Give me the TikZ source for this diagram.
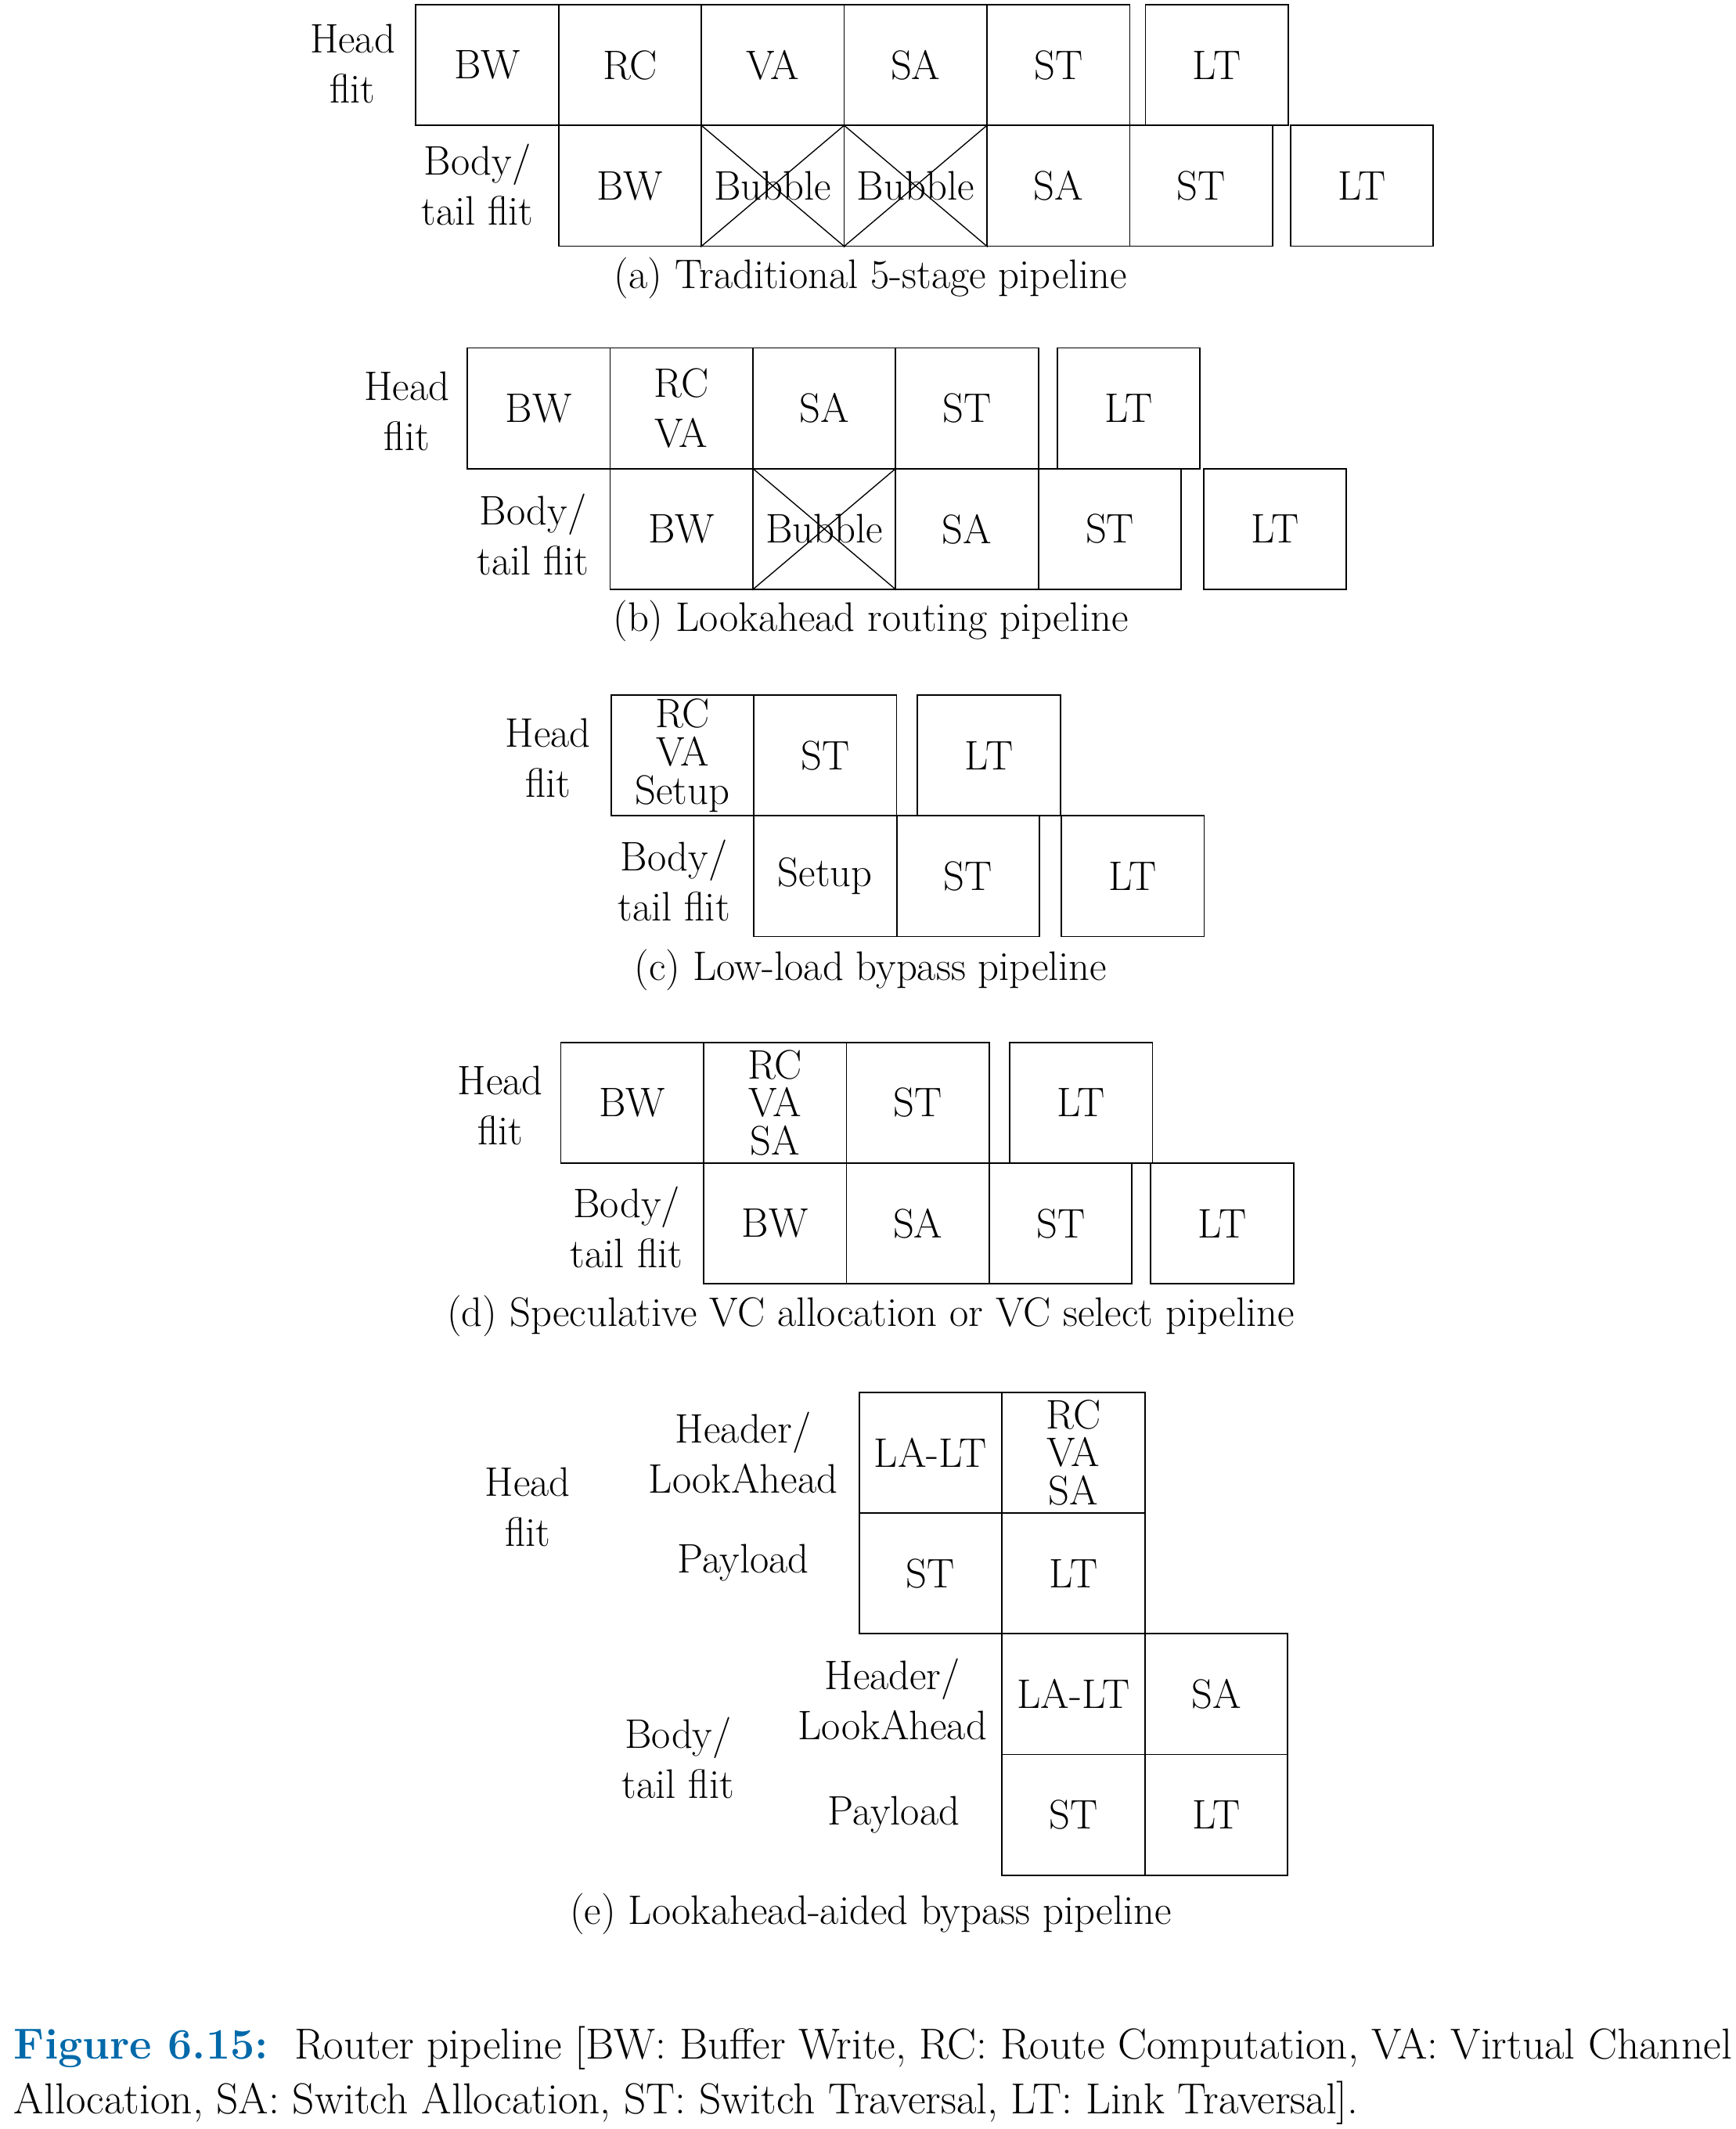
\documentclass[tikz,border=0pt]{standalone}
\usepackage{xcolor}
\definecolor{figblue}{RGB}{0,105,170}
\newcommand\pnlfont{\fontsize{17.3}{21}\selectfont}
\newcommand\stkfont{\fontsize{17.3}{16}\selectfont}
\newcommand\capfnt{\fontsize{18.2}{22.8}\selectfont}
\tikzset{
  cell/.style={draw, line width=0.6pt, minimum width=2.106cm, minimum height=1.78cm,
    inner sep=0pt, anchor=north west, align=center, font=\pnlfont},
  stk/.style={font=\stkfont},
  lbl/.style={align=center, font=\pnlfont, inner sep=0pt},
  xline/.style={line width=0.45pt}
}
\begin{document}
\begin{tikzpicture}[x=0.02cm, y=-0.02cm]
\useasboundingbox (0,0) rectangle (1280,1569.7);
% ---------- (a)
\node[lbl] (aHl) at (260,47) {Head\\flit};
\node[lbl] (aBl) at (352,136) {Body/\\tail flit};
\node[cell] (aH1) at (306,3) {BW};
\node[cell] (aH2) at (411.3,3) {RC};
\node[cell] (aH3) at (516.6,3) {VA};
\node[cell] (aH4) at (621.9,3) {SA};
\node[cell] (aH5) at (727.2,3) {ST};
\node[cell] (aH6) at (844,3) {LT};
\node[cell] (aB1) at (411.3,92) {BW};
\node[cell] (aB2) at (516.6,92) {Bubble};
\node[cell] (aB3) at (621.9,92) {Bubble};
\node[cell] (aB4) at (727.2,92) {SA};
\node[cell] (aB5) at (832.5,92) {ST};
\node[cell] (aB6) at (951,92) {LT};
\draw[xline] (aB2.north west) -- (aB2.south east) (aB2.south west) -- (aB2.north east);
\draw[xline] (aB3.north west) -- (aB3.south east) (aB3.south west) -- (aB3.north east);
\node[lbl] (aCap) at (642,205) {(a) Traditional 5-stage pipeline};
% ---------- (b)
\node[lbl] (bHl) at (300,303) {Head\\flit};
\node[lbl] (bBl) at (393,394) {Body/\\tail flit};
\node[cell] (bH1) at (344,256) {BW};
\node[cell] (bH2) at (449.3,256) {RC\\VA};
\node[cell] (bH3) at (554.6,256) {SA};
\node[cell] (bH4) at (659.9,256) {ST};
\node[cell] (bH5) at (779,256) {LT};
\node[cell] (bB1) at (449.3,345) {BW};
\node[cell] (bB2) at (554.6,345) {Bubble};
\node[cell] (bB3) at (659.9,345) {SA};
\node[cell] (bB4) at (765.2,345) {ST};
\node[cell] (bB5) at (887,345) {LT};
\draw[xline] (bB2.north west) -- (bB2.south east) (bB2.south west) -- (bB2.north east);
\node[lbl] (bCap) at (642,458) {(b) Lookahead routing pipeline};
% ---------- (c)
\node[lbl] (cHl) at (404,559) {Head\\flit};
\node[lbl] (cBl) at (497,649) {Body/\\tail flit};
\node[cell,stk] (cH1) at (450,512) {RC\\VA\\Setup};
\node[cell] (cH2) at (555.3,512) {ST};
\node[cell] (cH3) at (676,512) {LT};
\node[cell] (cB1) at (555.3,601) {Setup};
\node[cell] (cB2) at (660.6,601) {ST};
\node[cell] (cB3) at (782,601) {LT};
\node[lbl] (cCap) at (642,715) {(c) Low-load bypass pipeline};
% ---------- (d)
\node[lbl] (dHl) at (369,815) {Head\\flit};
\node[lbl] (dBl) at (462,905) {Body/\\tail flit};
\node[cell] (dH1) at (413,768) {BW};
\node[cell,stk] (dH2) at (518.3,768) {RC\\VA\\SA};
\node[cell] (dH3) at (623.6,768) {ST};
\node[cell] (dH4) at (744,768) {LT};
\node[cell] (dB1) at (518.3,857) {BW};
\node[cell] (dB2) at (623.6,857) {SA};
\node[cell] (dB3) at (728.9,857) {ST};
\node[cell] (dB4) at (848,857) {LT};
\node[lbl] (dCap) at (642,970) {(d) Speculative VC allocation or VC select pipeline};
% ---------- (e)
\node[lbl] (eHl) at (389,1111) {Head\\flit};
\node[lbl] (eHh) at (548,1071) {Header/\\LookAhead};
\node[lbl] (eHp) at (548,1152) {Payload};
\node[cell] (eH1) at (633,1026) {LA-LT};
\node[cell,stk] (eH2) at (738.3,1026) {RC\\VA\\SA};
\node[cell] (eH3) at (633,1115) {ST};
\node[cell] (eH4) at (738.3,1115) {LT};
\node[lbl] (eBl) at (500,1296) {Body/\\tail flit};
\node[lbl] (eBh) at (658,1253) {Header/\\LookAhead};
\node[lbl] (eBp) at (659,1338) {Payload};
\node[cell] (eB1) at (738.3,1204) {LA-LT};
\node[cell] (eB2) at (843.6,1204) {SA};
\node[cell] (eB3) at (738.3,1293) {ST};
\node[cell] (eB4) at (843.6,1293) {LT};
\node[lbl] (eCap) at (642,1411) {(e) Lookahead-aided bypass pipeline};
% ---------- figure caption
\node[anchor=north west, text width=25.34cm, align=justify, font=\capfnt, inner sep=0pt] (figcap) at (10,1494)
 {{\bfseries\color{figblue}Figure 6.15:}\hspace{0.2em} Router pipeline [BW: Buffer Write, RC: Route Computation, VA: Virtual Channel\linebreak
 Allocation, SA: Switch Allocation, ST: Switch Traversal, LT: Link Traversal].};
\end{tikzpicture}
\end{document}
